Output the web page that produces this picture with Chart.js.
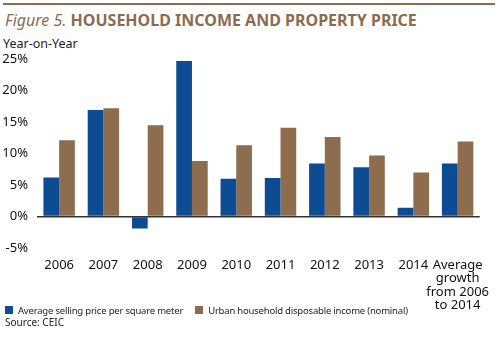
<!DOCTYPE html>
<html><head><meta charset="utf-8">
<script src="https://cdn.jsdelivr.net/npm/chart.js@4/dist/chart.umd.min.js"></script>
<style>
html,body{margin:0;padding:0;background:#fff;}
#wrap{position:relative;width:500px;height:338px;overflow:hidden;font-family:"Noto Sans",sans-serif;}
#rule{position:absolute;left:3px;top:3px;width:492px;height:2px;background:#8c6c50;}
#title{position:absolute;left:5px;top:8px;font-size:16px;color:#8c6c50;white-space:nowrap;line-height:24px;}
#title i{font-weight:400;}
#title b{font-weight:700;}
#yl{position:absolute;left:3px;top:35px;font-size:12.5px;color:#222;}
#legend{position:absolute;left:5px;top:304px;font-size:9.5px;color:#222;white-space:nowrap;letter-spacing:-0.2px;}
#legend span.sw{display:inline-block;width:8px;height:8px;margin-right:5px;}
#src{position:absolute;left:5px;top:315px;font-size:10px;color:#222;}
canvas{position:absolute;left:0;top:0;}
</style></head>
<body><div id="wrap">
<div id="rule"></div>
<div id="title"><i>Figure 5.</i> <b>HOUSEHOLD INCOME AND PROPERTY PRICE</b></div>
<div id="yl">Year-on-Year</div>
<canvas id="c" width="500" height="338"></canvas>
<div id="legend"><span class="sw" style="background:#0d4c92"></span><span id="l1"></span><span style="display:inline-block;width:12px"></span><span class="sw" style="background:#8e6d4f"></span><span id="l2"></span></div>
<div id="src">Source: CEIC</div>
</div>
<script>
const categories = ["2006","2007","2008","2009","2010","2011","2012","2013","2014",["Average","growth","from 2006","to 2014"]];
const seriesNames = ["Average selling price per square meter","Urban household disposable income (nominal)"];
const priceGrowth = [6.2,16.9,-1.9,24.7,6.0,6.1,8.4,7.8,1.4,8.4];
const incomeGrowth = [12.1,17.2,14.5,8.8,11.3,14.1,12.6,9.7,7.0,11.9];
const yTicks = [-5,0,5,10,15,20,25];

document.getElementById('l1').textContent = seriesNames[0];
document.getElementById('l2').textContent = seriesNames[1];

new Chart(document.getElementById('c'), {
  type: 'bar',
  data: {
    labels: categories,
    datasets: [
      {label: seriesNames[0], data: priceGrowth, backgroundColor: '#0d4c92'},
      {label: seriesNames[1], data: incomeGrowth, backgroundColor: '#8e6d4f'}
    ]
  },
  options: {
    responsive: false,
    animation: false,
    devicePixelRatio: 1,
    layout: {padding: {top: 59, right: 20, bottom: 0, left: 0}},
    plugins: {legend: {display: false}, tooltip: {enabled: false}},
    datasets: {bar: {categoryPercentage: 0.71, barPercentage: 1.0}},
    scales: {
      x: {
        grid: {display: false, drawTicks: false},
        border: {display: false},
        ticks: {color: '#111', font: {family: 'Noto Sans', size: 13, lineHeight: 1.05}, padding: 10, maxRotation: 0, autoSkip: false},
        afterFit: s => { s.height = 90; }
      },
      y: {
        min: -5, max: 25,
        afterBuildTicks: s => { s.ticks = yTicks.map(v => ({value: v})); },
        grid: {
          drawTicks: false,
          color: c => (c.tick && c.tick.value === 0) ? '#333' : 'rgba(0,0,0,0)',
          lineWidth: 1.5
        },
        border: {display: false},
        ticks: {color: '#111', font: {family: 'Noto Sans', size: 13}, padding: 9, callback: v => v + '%'},
        afterFit: s => { s.width = 37; }
      }
    }
  }
});
</script>
</body></html>
